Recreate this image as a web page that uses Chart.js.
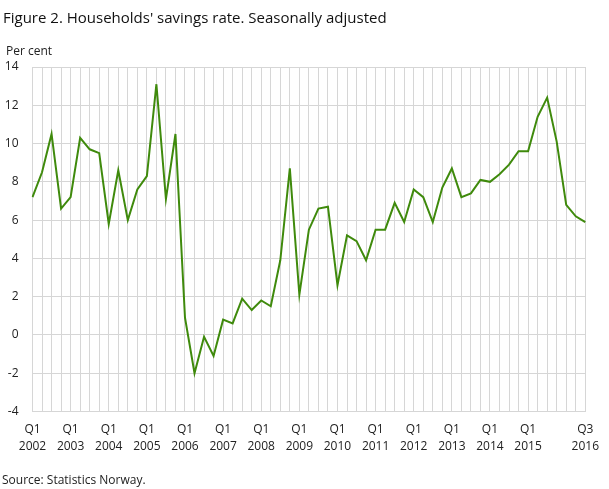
<!DOCTYPE html>
<html>
<head>
<meta charset="utf-8">
<script src="https://cdn.jsdelivr.net/npm/chart.js@4/dist/chart.umd.min.js"></script>
<style>
  html, body { margin: 0; padding: 0; background: #fff; }
  #c { display: block; }
</style>
</head>
<body>
<canvas id="c" width="609" height="489"></canvas>
<script>
const titleText = "Figure 2. Households' savings rate. Seasonally adjusted";
const unitText = "Per cent";
const sourceText = "Source: Statistics Norway.";

const years = [2002, 2003, 2004, 2005, 2006, 2007, 2008, 2009, 2010, 2011, 2012, 2013, 2014, 2015, 2016];
const quarterNames = ["Q1", "Q2", "Q3", "Q4"];
const lastQuarterCount = 3; // 2016 ends at Q3

const savingsRate = [
  7.2, 8.5, 10.5, 6.6,
  7.2, 10.3, 9.7, 9.5,
  5.8, 8.6, 6.0, 7.6,
  8.3, 13.1, 7.1, 10.5,
  0.9, -2.0, -0.1, -1.1,
  0.8, 0.6, 1.9, 1.3,
  1.8, 1.5, 3.9, 8.7,
  2.1, 5.5, 6.6, 6.7,
  2.6, 5.2, 4.9, 3.9,
  5.5, 5.5, 6.9, 5.9,
  7.6, 7.2, 5.9, 7.7,
  8.7, 7.2, 7.4, 8.1,
  8.0, 8.4, 8.9, 9.6,
  9.6, 11.4, 12.4, 10.1,
  6.8, 6.2, 5.9
];

const yMin = -4, yMax = 14, yStep = 2;

// categories
const categories = [];
years.forEach((y, yi) => {
  const n = (yi === years.length - 1) ? lastQuarterCount : 4;
  for (let q = 0; q < n; q++) categories.push([quarterNames[q], String(y)]);
});
const lastIndex = categories.length - 1;

const textPlugin = {
  id: 'texts',
  afterDraw(chart) {
    const ctx = chart.ctx;
    ctx.save();
    ctx.fillStyle = '#111';
    ctx.textBaseline = 'alphabetic';
    ctx.textAlign = 'left';
    ctx.font = '15px "Open Sans"';
    ctx.fillText(titleText, 3, 23);
    ctx.fillStyle = '#222';
    ctx.font = '12px "Open Sans"';
    ctx.fillText(unitText, 6, 55);
    ctx.font = '12px "Open Sans"';
    ctx.fillText(sourceText, 2, 484);
    ctx.restore();
  }
};

new Chart(document.getElementById('c'), {
  type: 'line',
  data: {
    labels: categories,
    datasets: [{
      data: savingsRate,
      borderColor: '#3f8a0c',
      borderWidth: 2,
      pointRadius: 0,
      tension: 0,
      fill: false
    }]
  },
  options: {
    responsive: false,
    animation: false,
    devicePixelRatio: 1,
    layout: { padding: { top: 67, right: 22, left: 0, bottom: 0 } },
    plugins: { legend: { display: false }, tooltip: { enabled: false }, title: { display: false } },
    scales: {
      x: {
        type: 'category',
        offset: false,
        grid: { color: '#d6d6d6', lineWidth: 1, drawTicks: false },
        border: { color: '#d6d6d6' },
        ticks: {
          autoSkip: false,
          maxRotation: 0,
          minRotation: 0,
          padding: 10,
          color: '#222',
          font: { family: '"Open Sans"', size: 12, lineHeight: 1.42 },
          callback: function(value, index) {
            if (index === lastIndex || (index % 4 === 0 && index < lastIndex - 3)) return categories[index];
            return '';
          }
        },
        afterFit(scale) { scale.height = 77.5; }
      },
      y: {
        min: yMin,
        max: yMax,
        grid: { color: '#d6d6d6', lineWidth: 1, drawTicks: false },
        border: { display: false },
        ticks: {
          stepSize: yStep,
          padding: 14,
          color: '#222',
          font: { family: '"Open Sans"', size: 12 }
        },
        afterFit(scale) { scale.width = 32.5; }
      }
    }
  },
  plugins: [textPlugin]
});
</script>
</body>
</html>
